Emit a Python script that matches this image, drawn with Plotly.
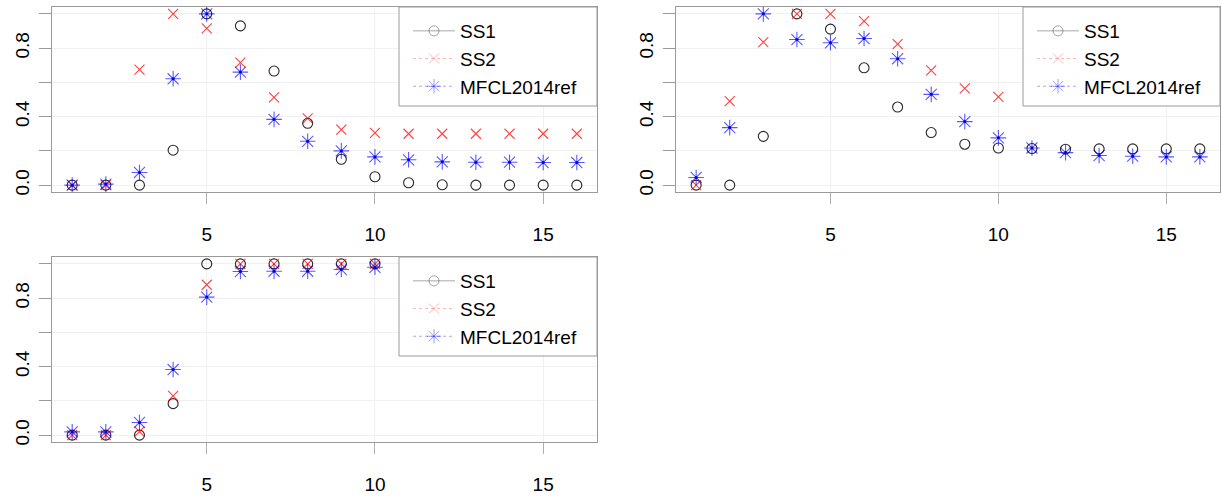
import plotly.graph_objects as go

W, H = 1222, 499

ages16 = list(range(1, 17))
ages10 = list(range(1, 11))

p1_ss1 = [0.0, 0.0, 0.0, 0.204, 1.0, 0.93, 0.666, 0.361, 0.151, 0.049, 0.014, 0.002, 0.0, 0.0, 0.0, 0.0]
p1_ss2 = [0.0, 0.0, 0.674, 1.0, 0.915, 0.715, 0.513, 0.39, 0.324, 0.305, 0.30, 0.30, 0.30, 0.30, 0.30, 0.30]
p1_mfcl = [0.0, 0.006, 0.074, 0.621, 1.0, 0.66, 0.384, 0.256, 0.2, 0.165, 0.148, 0.136, 0.134, 0.134, 0.132, 0.132]

p2_ss1 = [0.0, 0.0, 0.285, 1.0, 0.911, 0.685, 0.456, 0.307, 0.239, 0.217, 0.214, 0.21, 0.212, 0.212, 0.212, 0.212]
p2_ss2 = [0.0, 0.491, 0.835, 1.0, 1.0, 0.957, 0.823, 0.67, 0.565, 0.515, None, None, None, None, None, None]
p2_mfcl = [0.045, 0.336, 1.0, 0.85, 0.831, 0.856, 0.738, 0.53, 0.371, 0.276, 0.217, 0.19, 0.173, 0.169, 0.165, 0.165]

p3_ss1 = [0.0, 0.0, 0.0, 0.184, 1.0, 1.0, 1.0, 1.0, 1.0, 1.0]
p3_ss2 = [0.0, 0.0, 0.02, 0.229, 0.878, 1.0, 1.0, 1.0, 1.0, 1.0]
p3_mfcl = [0.019, 0.019, 0.074, 0.383, 0.806, 0.955, 0.957, 0.957, 0.967, 0.98]

series_names = ["SS1", "SS2", "MFCL2014ref"]
x_ticks = [5, 10, 15]
y_ticks = [0.0, 0.4, 0.8]
y_tick_text = ["0.0", "0.4", "0.8"]

FONT = "Liberation Sans, Arial, sans-serif"
FRAME = "#9a9a9a"
GRID = "#f0f0f0"

# panel boxes in pixels: (left, right, top, bottom)
panels = [
    (52, 597, 7, 192),
    (676, 1220, 7, 192),
    (52, 597, 257, 442),
]
panel_data = [
    (ages16, p1_ss1, ages16, p1_ss2, ages16, p1_mfcl),
    (ages16, p2_ss1, ages16, p2_ss2, ages16, p2_mfcl),
    (ages10, p3_ss1, ages10, p3_ss2, ages10, p3_mfcl),
]
legend_boxes = [
    (399, 597, 7, 106),
    (1023, 1220, 7, 106),
    (399, 597, 257, 356),
]

fig = go.Figure()
layout = dict(
    width=W, height=H,
    margin=dict(l=0, r=0, t=0, b=0, autoexpand=False),
    paper_bgcolor="white", plot_bgcolor="white",
    font=dict(family=FONT, size=19, color="black"),
    shapes=[],
)

for i, ((l, r, t, b), data, lb) in enumerate(zip(panels, panel_data, legend_boxes)):
    n = "" if i == 0 else str(i + 1)
    xa, ya = "x" + n, "y" + n
    leg = "legend" + n
    xs1, ys1, xs2, ys2, xs3, ys3 = data
    fig.add_trace(go.Scatter(x=xs1, y=ys1, mode="markers", xaxis=xa, yaxis=ya, showlegend=False,
                             cliponaxis=False,
                             marker=dict(symbol="circle-open", size=10, color="rgba(0,0,0,0.85)",
                                         line=dict(width=1.1))))
    fig.add_trace(go.Scatter(x=xs2, y=ys2, mode="markers", xaxis=xa, yaxis=ya, showlegend=False,
                             cliponaxis=False,
                             marker=dict(symbol="x-thin-open", size=10, color="rgba(255,0,0,0.75)",
                                         line=dict(width=1.1, color="rgba(255,0,0,0.75)"))))
    fig.add_trace(go.Scatter(x=xs3, y=ys3, mode="markers", xaxis=xa, yaxis=ya, showlegend=False,
                             cliponaxis=False,
                             marker=dict(symbol="asterisk-open", size=13, color="rgba(0,0,255,0.65)",
                                         line=dict(width=1.1, color="rgba(0,0,255,0.65)"))))
    fig.add_trace(go.Scatter(x=xs3, y=ys3, mode="markers", xaxis=xa, yaxis=ya, showlegend=False,
                             cliponaxis=False, hoverinfo="skip",
                             marker=dict(symbol="circle", size=3, color="rgb(0,0,220)")))
    leg_styles = [
        dict(line=dict(color="rgba(0,0,0,0.35)", width=1, dash="solid"),
             marker=dict(symbol="circle-open", size=10, color="rgba(0,0,0,0.35)")),
        dict(line=dict(color="rgba(255,0,0,0.3)", width=1, dash="dot"),
             marker=dict(symbol="x-thin-open", size=10, color="rgba(255,0,0,0.3)",
                         line=dict(color="rgba(255,0,0,0.3)", width=1))),
        dict(line=dict(color="rgba(0,0,255,0.35)", width=1, dash="dot"),
             marker=dict(symbol="asterisk-open", size=12, color="rgba(0,0,255,0.4)",
                         line=dict(color="rgba(0,0,255,0.4)", width=1))),
    ]
    for name, st in zip(series_names, leg_styles):
        fig.add_trace(go.Scatter(x=[None], y=[None], mode="lines+markers", name=name,
                                 xaxis=xa, yaxis=ya, legend=leg, **st))

    layout["xaxis" + n] = dict(
        domain=[l / W, r / W], anchor=ya, range=[0.4, 16.6], automargin=False,
        tickmode="array", tickvals=x_ticks, ticktext=[str(v) for v in x_ticks],
        ticks="outside", ticklen=11, tickcolor="#b0b0b0", tickwidth=1,
        showline=True, linecolor=FRAME, linewidth=1, mirror=True,
        showgrid=True, gridcolor=GRID, gridwidth=1, zeroline=False,
        ticklabelstandoff=14, tickfont=dict(size=19, family=FONT),
    )
    layout["yaxis" + n] = dict(
        domain=[1 - b / H, 1 - t / H], anchor=xa, range=[-0.04, 1.04], automargin=False,
        tickmode="array", tickvals=y_ticks, ticktext=y_tick_text, tickangle=-90,
        ticks="outside", ticklen=12, tickcolor=FRAME, tickwidth=1,
        minor=dict(dtick=0.2, tick0=0, ticks="outside", ticklen=12, tickcolor=FRAME,
                   showgrid=True, gridcolor=GRID, gridwidth=1),
        showline=True, linecolor=FRAME, linewidth=1, mirror=True,
        showgrid=True, gridcolor=GRID, gridwidth=1, zeroline=False,
        ticklabelstandoff=2, tickfont=dict(size=19, family=FONT),
    )
    ll, lr, lt, lbm = lb
    layout["shapes"].append(dict(type="rect", xref="paper", yref="paper",
                                 x0=ll / W, x1=lr / W, y0=1 - lbm / H, y1=1 - lt / H,
                                 line=dict(color=FRAME, width=1), fillcolor="white", layer="above"))
    layout[leg] = dict(x=(ll + 9) / W, y=1 - (lt + 5) / H, xanchor="left", yanchor="top",
                       bgcolor="rgba(0,0,0,0)", borderwidth=0, itemwidth=42,
                       font=dict(size=19, family=FONT), tracegroupgap=0)

fig.update_layout(**layout)
fig.write_html("out.html", config={"displayModeBar": False},
               post_script="document.body.style.margin='0';document.body.style.padding='0';")
